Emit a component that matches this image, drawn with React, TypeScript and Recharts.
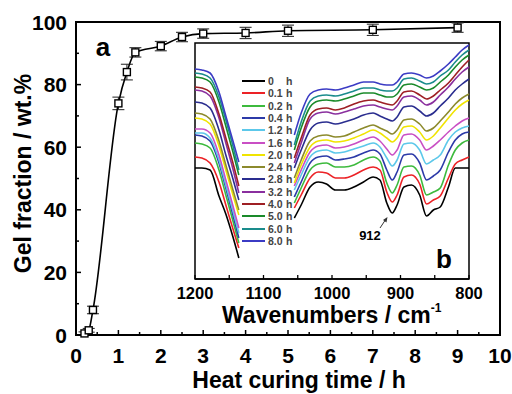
import React from 'react';
import { LineChart, Line, XAxis, YAxis, ErrorBar, Label, ReferenceArea } from 'recharts';

const FONT = '"Liberation Sans", Arial, sans-serif';

// (a) gel fraction vs heat curing time
const curingTime = [0.2, 0.3, 0.4, 1.0, 1.2, 1.4, 2.0, 2.5, 3.0, 4.0, 5.0, 7.0, 9.0];
const gelFraction = [0.5, 1.5, 8, 74, 84, 90.3, 92.3, 95.2, 96.3, 96.5, 97.2, 97.5, 98.2];
const gelError = [0.5, 0.6, 1.2, 2, 2.5, 1.5, 1.5, 1.5, 1.5, 1.8, 1.8, 1.8, 1.5];
const mainXTicks = [0, 0.5, 1, 1.5, 2, 2.5, 3, 3.5, 4, 4.5, 5, 5.5, 6, 6.5, 7, 7.5, 8, 8.5, 9, 9.5, 10];
const mainYTicks = [0, 10, 20, 30, 40, 50, 60, 70, 80, 90, 100];

// (b) FTIR spectra, arbitrary intensity units, two visible segments
const wnLeft = [1200, 1190, 1178, 1165, 1155, 1145, 1136];
const wnRight = [1055, 1045, 1032, 1020, 1008, 995, 982, 968, 954, 940, 930, 920, 912, 905, 895, 884, 872, 862, 852, 842, 830, 820, 810, 800];
const insetTicks = [1200, 1150, 1100, 1050, 1000, 950, 900, 850, 800];

const spec0 = [111, 111, 109, 83, 65, 43, 21, 61, 74, 92, 97, 95, 89, 89, 92, 97, 102, 99, 76, 66, 74, 92, 94, 84, 63, 69, 72, 92, 111, 111, 111];
const spec01 = [122, 121, 116, 97, 74, 51, 31, 71, 84, 101, 107, 106, 101, 101, 104, 109, 112, 109, 87, 77, 84, 102, 104, 95, 75, 79, 83, 101, 115, 119, 122];
const spec02 = [136, 135, 131, 109, 84, 59, 36, 76, 91, 109, 115, 116, 112, 112, 114, 119, 122, 118, 96, 86, 94, 112, 113, 104, 84, 87, 91, 114, 129, 136, 139];
const spec04 = [144, 143, 138, 116, 91, 65, 41, 82, 97, 116, 122, 123, 119, 120, 122, 126, 129, 125, 109, 99, 107, 124, 125, 116, 99, 103, 109, 127, 139, 145, 147];
const spec12 = [146, 146, 141, 119, 94, 69, 46, 89, 104, 122, 128, 129, 126, 127, 130, 133, 136, 132, 121, 113, 119, 135, 136, 129, 115, 119, 124, 139, 147, 151, 153];
const spec16 = [150, 150, 146, 124, 99, 74, 51, 93, 109, 127, 133, 134, 131, 132, 135, 139, 142, 138, 130, 124, 129, 144, 145, 139, 129, 133, 139, 147, 153, 158, 161];
const spec20 = [161, 160, 155, 133, 109, 85, 64, 96, 114, 132, 138, 139, 137, 138, 141, 145, 149, 146, 141, 137, 141, 152, 153, 147, 139, 143, 151, 161, 169, 175, 179];
const spec24 = [166, 165, 160, 138, 114, 90, 69, 101, 119, 138, 143, 144, 142, 143, 147, 151, 154, 151, 148, 145, 149, 159, 160, 155, 148, 151, 158, 167, 175, 181, 185];
const spec28 = [177, 176, 171, 149, 124, 101, 79, 111, 129, 149, 156, 157, 155, 157, 160, 164, 166, 163, 160, 158, 162, 172, 173, 168, 163, 166, 173, 181, 189, 195, 200];
const spec32 = [189, 188, 183, 161, 136, 111, 86, 116, 136, 160, 166, 167, 165, 167, 170, 173, 174, 172, 170, 169, 173, 182, 183, 179, 174, 177, 184, 192, 200, 207, 212];
const spec40 = [192, 191, 187, 165, 141, 117, 93, 121, 141, 164, 170, 171, 169, 171, 175, 178, 179, 177, 175, 174, 178, 187, 188, 184, 180, 183, 189, 196, 204, 212, 219];
const spec50 = [202, 201, 197, 177, 153, 128, 104, 129, 151, 172, 178, 179, 178, 180, 183, 186, 186, 184, 182, 182, 185, 194, 195, 192, 189, 191, 197, 204, 212, 219, 224];
const spec60 = [206, 205, 201, 182, 159, 134, 109, 134, 157, 178, 183, 184, 183, 185, 188, 191, 191, 189, 188, 188, 191, 200, 201, 198, 195, 197, 203, 209, 217, 224, 229];
const spec80 = [210, 209, 206, 187, 163, 139, 117, 144, 166, 185, 189, 190, 189, 191, 194, 197, 197, 195, 194, 194, 197, 205, 206, 204, 201, 203, 208, 215, 222, 229, 234];

const specTimes = ['0', '0.1', '0.2', '0.4', '1.2', '1.6', '2.0', '2.4', '2.8', '3.2', '4.0', '5.0', '6.0', '8.0'];
const specColors = ['#000000', '#ec2226', '#3dba3d', '#2c3aa8', '#5cc8ea', '#c94fc4', '#f0e400', '#8c8a2c', '#2a2d8f', '#8a2f9e', '#9e1f24', '#1a8a2a', '#1a8c8c', '#3b3bc4'];
const specValues = [spec0, spec01, spec02, spec04, spec12, spec16, spec20, spec24, spec28, spec32, spec40, spec50, spec60, spec80];

const gelData = curingTime.map((t, i) => ({ t, gel: gelFraction[i], err: gelError[i] }));

const wnAll = [...wnLeft, ...wnRight];
const specRows: any[] = [];
wnAll.forEach((wn, i) => {
  const row: any = { wn };
  specValues.forEach((vals, k) => { row[`s${k}`] = vals[i]; });
  specRows.push(row);
  if (i === wnLeft.length - 1) specRows.push({ wn: 1095 }); // gap behind legend
});

const MainXTick = ({ x, y, payload }: any) => {
  const major = Number.isInteger(payload.value);
  return (
    <g>
      <line x1={x} x2={x} y1={y} y2={y - (major ? 5 : 3)} stroke="#000" strokeWidth={1.5} />
      {major && (
        <text x={x} y={y + 20} dy="0.36em" textAnchor="middle" fontSize={21} fontWeight="bold" fontFamily={FONT}>
          {payload.value}
        </text>
      )}
    </g>
  );
};

const MainYTick = ({ x, y, payload }: any) => {
  const major = payload.value % 20 === 0;
  return (
    <g>
      <line x1={x} x2={x + (major ? 5 : 3)} y1={y} y2={y} stroke="#000" strokeWidth={1.5} />
      {major && (
        <text x={x - 9} y={y} dy="0.36em" textAnchor="end" fontSize={21} fontWeight="bold" fontFamily={FONT}>
          {payload.value}
        </text>
      )}
    </g>
  );
};

const InsetXTick = ({ x, y, payload }: any) => {
  const major = payload.value % 100 === 0;
  return (
    <g>
      <line x1={x} x2={x} y1={y} y2={y - 4} stroke="#000" strokeWidth={1.3} />
      {major && (
        <text x={x} y={y + 14} dy="0.36em" textAnchor="middle" fontSize={16.5} fontWeight="bold" fontFamily={FONT}>
          {payload.value}
        </text>
      )}
    </g>
  );
};

const SquareDot = (p: any) => (
  <rect key={`sq${p.index}`} x={p.cx - 3.5} y={p.cy - 3.5} width={7} height={7} fill="#fff" stroke="#000" strokeWidth={1.4} />
);

export default function App() {
  return (
    <div style={{ position: 'absolute', left: 0, top: 0, width: 512, height: 394, background: '#fff', fontFamily: FONT }}>
      <LineChart width={512} height={394} data={gelData} margin={{ top: 22, right: 12, bottom: 0, left: 0 }}>
        <ReferenceArea x1={0} x2={10} y1={0} y2={100} fill="none" stroke="#000" strokeWidth={2} ifOverflow="visible" />
        <XAxis
          dataKey="t" type="number" domain={[0, 10]} ticks={mainXTicks} interval={0}
          tick={<MainXTick />} tickLine={false} tickSize={0} tickMargin={0} height={59}
          axisLine={{ stroke: '#000', strokeWidth: 2 }}
        >
          <Label
            content={({ viewBox }: any) => (
              <text x={viewBox.x + viewBox.width / 2 + 11} y={388} textAnchor="middle" fontSize={23} fontWeight="bold" fontFamily={FONT}>
                Heat curing time / h
              </text>
            )}
          />
        </XAxis>
        <YAxis
          type="number" domain={[0, 100]} ticks={mainYTicks} interval={0} width={76}
          tick={<MainYTick />} tickLine={false} tickSize={0} tickMargin={0}
          axisLine={{ stroke: '#000', strokeWidth: 2 }}
        >
          <Label
            content={({ viewBox }: any) => (
              <text x={23} y={viewBox.y + viewBox.height / 2 - 5} transform={`rotate(-90 23 ${viewBox.y + viewBox.height / 2 - 5})`} dy="0.36em" textAnchor="middle" fontSize={23} fontWeight="bold" fontFamily={FONT}>
                Gel fraction / wt.%
              </text>
            )}
          />
        </YAxis>
        <Line dataKey="gel" type="monotone" stroke="#000" strokeWidth={1.6} dot={SquareDot} activeDot={false} isAnimationActive={false}>
          <ErrorBar dataKey="err" direction="y" width={6} stroke="#333" strokeWidth={1.1} />
        </Line>
        <text x={103} y={56} textAnchor="middle" fontSize={26} fontWeight="bold" fontFamily={FONT}>a</text>
      </LineChart>

      <div style={{ position: 'absolute', left: 160, top: 35 }}>
        <LineChart width={340} height={300} data={specRows} margin={{ top: 8, right: 31, bottom: 0, left: 35 }}>
          <ReferenceArea x1={800} x2={1200} y1={0} y2={236} fill="none" stroke="#000" strokeWidth={1.5} ifOverflow="visible" />
          <XAxis
            dataKey="wn" type="number" domain={[800, 1200]} reversed ticks={insetTicks} interval={0}
            tick={<InsetXTick />} tickLine={false} tickSize={0} tickMargin={0} height={56}
            axisLine={{ stroke: '#000', strokeWidth: 1.5 }}
          >
            <Label
              content={() => (
                <text x={62} y={288} fontSize={23} fontWeight="bold" fontFamily={FONT}>
                  Wavenumbers / cm
                  <tspan fontSize={12} dy={-11}>-1</tspan>
                </text>
              )}
            />
          </XAxis>
          <YAxis type="number" domain={[0, 236]} width={0} tick={false} tickLine={false} axisLine={{ stroke: '#000', strokeWidth: 1.5 }} />
          {specValues.map((_, k) => (
            <Line key={k} dataKey={`s${k}`} type="monotone" stroke={specColors[k]} strokeWidth={1.6} dot={false} activeDot={false} connectNulls={false} isAnimationActive={false} />
          ))}
          <line x1={220} y1={193} x2={226} y2={184} stroke="#333" strokeWidth={1} />
          <polygon points="227.5,182 223,185 226.5,187.5" fill="#333" />
          <text x={210} y={205} textAnchor="middle" fontSize={13} fontWeight="bold" fontFamily={FONT}>912</text>
          <text x={284} y={233} textAnchor="middle" fontSize={26} fontWeight="bold" fontFamily={FONT}>b</text>
        </LineChart>
      </div>

      {specTimes.map((t, k) => (
        <div key={t} style={{ position: 'absolute', left: 242, top: 81 + k * 12.3 - 6, height: 12, width: 60 }}>
          <div style={{ position: 'absolute', left: 0, top: 5, width: 23, height: 2, background: specColors[k] }} />
          <span style={{ position: 'absolute', left: 26, top: 0, fontSize: 10.5, lineHeight: '12px', fontWeight: 'bold', color: '#444' }}>{t}</span>
          <span style={{ position: 'absolute', left: 44, top: 0, fontSize: 10.5, lineHeight: '12px', fontWeight: 'bold', color: '#444' }}>h</span>
        </div>
      ))}
    </div>
  );
}
